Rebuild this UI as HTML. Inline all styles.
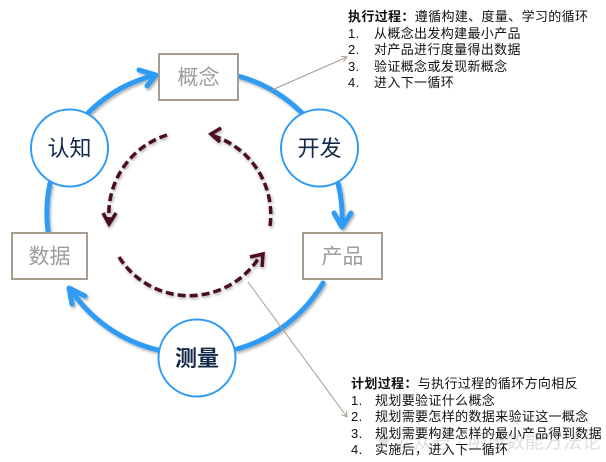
<!DOCTYPE html>
<html><head><meta charset="utf-8">
<style>
html,body{margin:0;padding:0;background:#fff;}
#wrap{position:relative;width:606px;height:462px;overflow:hidden;background:#fff;font-family:"Liberation Sans","Noto Sans CJK SC",sans-serif;}
.txt{position:absolute;font-size:13px;line-height:16.5px;color:#111;white-space:nowrap;letter-spacing:0.35px;}
.txt .row{position:relative;height:16.5px;}
.txt .n{position:absolute;left:0;}
.txt .t{position:absolute;left:26px;}
.txt b{font-weight:bold;}
</style></head>
<body><div id="wrap">
<svg width="606" height="462" viewBox="0 0 606 462" style="position:absolute;left:0;top:0">
<defs>
<filter id="sh" x="-20%" y="-20%" width="140%" height="140%">
<feDropShadow dx="1.5" dy="2" stdDeviation="1.2" flood-color="#000" flood-opacity="0.3"/>
</filter>
<filter id="sh2" x="-20%" y="-20%" width="140%" height="140%">
<feDropShadow dx="1" dy="1.5" stdDeviation="1.5" flood-color="#000" flood-opacity="0.35"/>
</filter>
</defs>
<!-- blue cycle arcs -->
<g fill="none" stroke="#2F9BF5" stroke-width="5" stroke-linecap="round" stroke-linejoin="round" filter="url(#sh)">
<path d="M 88 113 A 145 145 0 0 1 155 75"/>
<path d="M 139 70 L 156 75 L 147 86"/>
<path d="M 238 76 A 145 145 0 0 1 302 113"/>
<path d="M 338 183 A 145 145 0 0 1 342 226"/>
<path d="M 334 213 L 342 227 L 351 213"/>
<path d="M 323 283 A 145 145 0 0 1 237 349"/>
<path d="M 158 350 A 145 145 0 0 1 71 290"/>
<path d="M 85 296 L 69 288 L 72 304"/>
<path d="M 50 183 A 145 145 0 0 0 48 231"/>
</g>
<!-- dashed inner arcs -->
<g fill="none" stroke="#4B0C22" stroke-width="3.5" filter="url(#sh2)">
<path d="M 167 135 A 83 83 0 0 0 109 220" stroke-dasharray="8 4"/>
<path d="M 103 213 L 109 224 L 116 213" stroke-linejoin="miter"/>
<path d="M 119 257 A 83 83 0 0 0 260 256" stroke-dasharray="8 4"/>
<path d="M 250 257 L 263 254 L 262 267" stroke-linejoin="miter"/>
<path d="M 270 226 A 83 83 0 0 0 214 136" stroke-dasharray="8 4"/>
<path d="M 221 128 L 211 134 L 220 142" stroke-linejoin="miter"/>
</g>
<!-- connector lines -->
<g fill="none" stroke="#A99A8C" stroke-width="1">
<path d="M 272 90 L 347 57"/>
<path d="M 341 56.3 L 347 57 L 343.4 61.8"/>
<path d="M 248 282 L 347 417"/>
<path d="M 346.3 411 L 347 417 L 341.5 414.6"/>
</g>
<!-- boxes -->
<g fill="#fff" stroke="#A89C90" stroke-width="2">
<rect x="159" y="54" width="79" height="46"/>
<rect x="12" y="233" width="75" height="46"/>
<rect x="303" y="233" width="79" height="46"/>
</g>
<g font-family="Liberation Sans, Noto Sans CJK SC, sans-serif" font-size="21" fill="#9c9c9c" text-anchor="middle">
<text x="198.5" y="84.5">概念</text>
<text x="49.5" y="263.5">数据</text>
<text x="342.5" y="263.5">产品</text>
</g>
<!-- circles -->
<g fill="#fff" stroke="#2F9BF5" stroke-width="2">
<circle cx="69.5" cy="148" r="38.5"/>
<circle cx="319.5" cy="148" r="38.5"/>
<circle cx="197" cy="358" r="38.5"/>
</g>
<g font-family="Liberation Sans, Noto Sans CJK SC, sans-serif" font-size="22" fill="#14284a" text-anchor="middle">
<text x="69.5" y="156">认知</text>
<text x="319.5" y="156">开发</text>
<text x="197" y="366" font-weight="bold">测量</text>
</g>
<!-- watermark -->
<g opacity="0.45">
<circle cx="384" cy="440" r="5" fill="#bbb"/>
<text x="394" y="448" font-family="Liberation Sans, Noto Sans CJK SC, sans-serif" font-size="19" fill="#b8b8b8">公众号 · 明茂数能方法论</text>
</g>
</svg>

<div class="txt" style="left:348px;top:9px;">
<div class="row"><b>执行过程：</b>遵循构建、度量、学习的循环</div>
<div class="row"><span class="n">1.</span><span class="t">从概念出发构建最小产品</span></div>
<div class="row"><span class="n">2.</span><span class="t">对产品进行度量得出数据</span></div>
<div class="row"><span class="n">3.</span><span class="t">验证概念或发现新概念</span></div>
<div class="row"><span class="n">4.</span><span class="t">进入下一循环</span></div>
</div>

<div class="txt" style="left:351px;top:376px;">
<div class="row"><b>计划过程：</b>与执行过程的循环方向相反</div>
<div class="row"><span class="n">1.</span><span class="t" style="left:24px">规划要验证什么概念</span></div>
<div class="row"><span class="n">2.</span><span class="t" style="left:24px">规划需要怎样的数据来验证这一概念</span></div>
<div class="row"><span class="n">3.</span><span class="t" style="left:24px">规划需要构建怎样的最小产品得到数据</span></div>
<div class="row"><span class="n">4.</span><span class="t" style="left:24px">实施后，进入下一循环</span></div>
</div>
</div></body></html>
